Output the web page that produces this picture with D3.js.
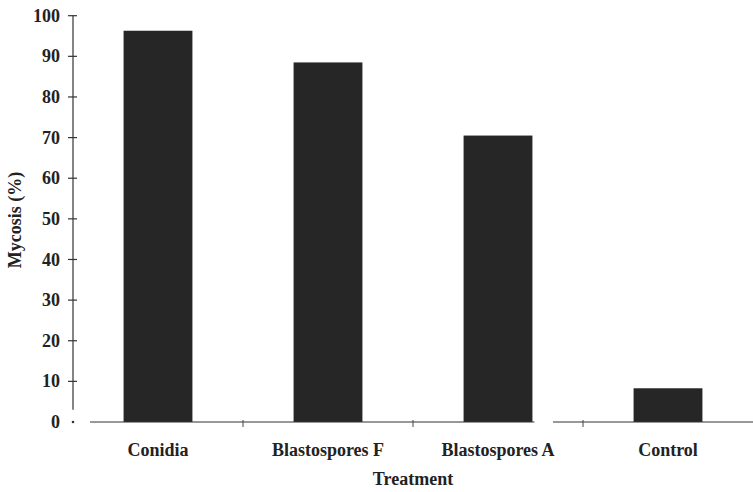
<!DOCTYPE html>
<html>
<head>
<meta charset="utf-8">
<script src="https://cdn.jsdelivr.net/npm/d3@7"></script>
<style>
  html, body { margin: 0; padding: 0; background: #fff; }
  svg { display: block; }
  text { font-family: "Liberation Serif", "Times New Roman", serif; font-weight: bold; fill: #222; }
</style>
</head>
<body>
<svg id="chart" width="753" height="492"></svg>
<script>
// Percentage of insects showing mycosis per treatment
const categories = ["Conidia", "Blastospores F", "Blastospores A", "Control"];
const mycosis = [96.3, 88.5, 70.5, 8.3];
const yTicks = [0, 10, 20, 30, 40, 50, 60, 70, 80, 90, 100];

const svg = d3.select("#chart");
const ink = "#262626";

const x = d3.scaleBand().domain(categories).range([73, 753]).paddingInner(0).paddingOuter(0);
const y = d3.scaleLinear().domain([0, 100]).range([422, 15.7]);

const barW = x.bandwidth() * 0.405;

// bars
svg.append("g")
  .selectAll("rect")
  .data(categories)
  .join("rect")
  .attr("x", (d) => x(d) + x.bandwidth() / 2 - barW / 2)
  .attr("width", barW)
  .attr("y", (d, i) => y(mycosis[i]))
  .attr("height", (d, i) => y(0) - y(mycosis[i]))
  .attr("fill", ink);

// y axis: vertical line with ticks crossing it
const yAxis = svg.append("g");
yAxis.append("line")
  .attr("x1", 73).attr("x2", 73)
  .attr("y1", y(100)).attr("y2", y(3))
  .attr("stroke", "#333").attr("stroke-width", 1.2);
yAxis.selectAll("line.tick")
  .data(yTicks.filter((t) => t > 0))
  .join("line")
  .attr("class", "tick")
  .attr("x1", 68).attr("x2", 77)
  .attr("y1", (d) => y(d)).attr("y2", (d) => y(d))
  .attr("stroke", "#333").attr("stroke-width", 1.2);
yAxis.append("circle")
  .attr("cx", 73).attr("cy", y(0)).attr("r", 1.3).attr("fill", "#333");
yAxis.selectAll("text")
  .data(yTicks)
  .join("text")
  .attr("x", 60)
  .attr("y", (d) => y(d))
  .attr("dy", "0.34em")
  .attr("text-anchor", "end")
  .attr("font-size", 18)
  .text((d) => d);

// x axis baseline with band boundary ticks
const xAxis = svg.append("g");
const base = y(0);
xAxis.append("line")
  .attr("x1", 90).attr("x2", x("Blastospores A") + x.bandwidth() / 2 + barW / 2 + 2)
  .attr("y1", base).attr("y2", base)
  .attr("stroke", "#333").attr("stroke-width", 1.2);
xAxis.append("line")
  .attr("x1", x("Control") - 30).attr("x2", 753)
  .attr("y1", base).attr("y2", base)
  .attr("stroke", "#333").attr("stroke-width", 1.2);
xAxis.selectAll("line.tick")
  .data(categories.slice(1))
  .join("line")
  .attr("class", "tick")
  .attr("x1", (d) => x(d)).attr("x2", (d) => x(d))
  .attr("y1", base - 2).attr("y2", base + 5)
  .attr("stroke", "#444").attr("stroke-width", 1);
xAxis.selectAll("text")
  .data(categories)
  .join("text")
  .attr("x", (d) => x(d) + x.bandwidth() / 2)
  .attr("y", 456)
  .attr("text-anchor", "middle")
  .attr("font-size", 18)
  .text((d) => d);

// axis titles
svg.append("text")
  .attr("x", 413).attr("y", 485)
  .attr("text-anchor", "middle")
  .attr("font-size", 18)
  .text("Treatment");
svg.append("text")
  .attr("transform", "translate(21,220) rotate(-90)")
  .attr("text-anchor", "middle")
  .attr("font-size", 18)
  .text("Mycosis (%)");
</script>
</body>
</html>
